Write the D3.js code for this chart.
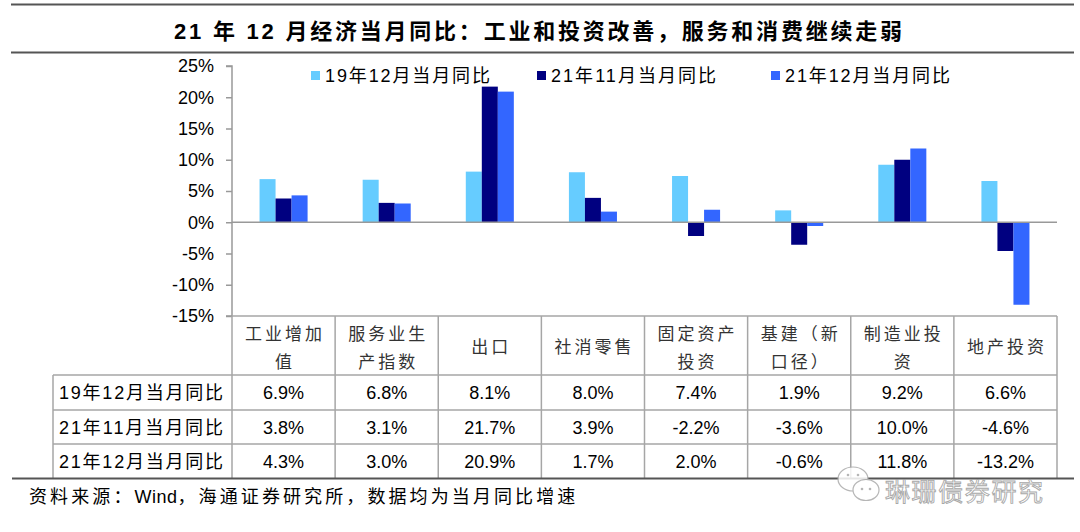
<!DOCTYPE html>
<html><head><meta charset="utf-8">
<script src="https://cdn.jsdelivr.net/npm/d3@7"></script>
<style>
html,body{margin:0;padding:0;background:#fff;}
svg{display:block;}
text{font-family:"Liberation Sans","Noto Sans CJK SC",sans-serif;}
</style></head>
<body><svg id="c" width="1080" height="532"></svg>
<script>
const title = "21 年 12 月经济当月同比：工业和投资改善，服务和消费继续走弱";
const sourceParts = ["资料来源：", "Wind", "，海通证券研究所，数据均为当月同比增速"];
const watermark = "琳珊债券研究";
const categories = ["工业增加值","服务业生产指数","出口","社消零售","固定资产投资","基建（新口径）","制造业投资","地产投资"];
const seriesNames = ["19年12月当月同比","21年11月当月同比","21年12月当月同比"];
const s19Dec = [6.9, 6.8, 8.1, 8.0, 7.4, 1.9, 9.2, 6.6];
const s21Nov = [3.8, 3.1, 21.7, 3.9, -2.2, -3.6, 10.0, -4.6];
const s21Dec = [4.3, 3.0, 20.9, 1.7, 2.0, -0.6, 11.8, -13.2];
const yTicks = [25, 20, 15, 10, 5, 0, -5, -10, -15];
const colors = ["#66CCFF", "#000080", "#3366FF"];

const series = [s19Dec, s21Nov, s21Dec];
const svg = d3.select("#c");
const loc = d3.formatLocale({decimal: ".", thousands: ",", grouping: [3], currency: ["", ""], minus: "-"});
const fmt = v => loc.format(".1f")(v) + "%";

// layout
const L = 232, R = 1057, T = 66, B = 316;
const x0 = d3.scaleBand().domain(categories).range([L, R]).paddingInner(0).paddingOuter(0);
const x1 = d3.scaleBand().domain(d3.range(3)).range([0, x0.bandwidth()]).paddingInner(0).paddingOuter(1.72);
const y = d3.scaleLinear().domain([-15, 25]).range([B, T]);

// title bar lines
svg.append("line").attr("x1", 11).attr("x2", 1074).attr("y1", 4.5).attr("y2", 4.5).attr("stroke", "#555").attr("stroke-width", 2);
svg.append("line").attr("x1", 11).attr("x2", 1074).attr("y1", 52.5).attr("y2", 52.5).attr("stroke", "#555").attr("stroke-width", 2);
svg.append("text").attr("x", 174).attr("y", 39).attr("font-size", 22).attr("font-weight", "bold")
  .attr("textLength", 728).attr("lengthAdjust", "spacing").attr("fill", "#000")
  .text(title);

// y axis
const yAxis = d3.axisLeft(y).tickValues(yTicks).tickSize(6).tickPadding(12).tickFormat(d => d + "%");
const ga = svg.append("g").attr("transform", `translate(${L},0)`).call(yAxis);
ga.select(".domain").attr("stroke", "#999").attr("stroke-width", 1.5).attr("d", `M-6,${T}H0V${B}H-6`);
ga.selectAll(".tick line").attr("stroke", "#999").attr("stroke-width", 1.5);
ga.selectAll(".tick text").attr("font-size", 18).attr("fill", "#000").style("font-family", "'Liberation Sans',sans-serif");

// bars
const groups = svg.append("g").selectAll("g").data(categories).join("g")
  .attr("transform", d => `translate(${x0(d)},0)`);
series.forEach((vals, si) => {
  groups.append("rect")
    .attr("x", x1(si))
    .attr("width", x1.bandwidth())
    .attr("y", (d, i) => y(Math.max(0, vals[i])))
    .attr("height", (d, i) => Math.abs(y(vals[i]) - y(0)))
    .attr("fill", colors[si]);
});

// zero line
svg.append("line").attr("x1", L).attr("x2", R).attr("y1", y(0)).attr("y2", y(0)).attr("stroke", "#999").attr("stroke-width", 1.5);

// legend
const legX = [311, 537, 771];
seriesNames.forEach((n, i) => {
  svg.append("rect").attr("x", legX[i]).attr("y", 71).attr("width", 9).attr("height", 9).attr("fill", colors[i]);
  svg.append("text").attr("x", legX[i] + 14).attr("y", 82).attr("font-size", 18).attr("fill", "#000")
    .attr("textLength", 165).attr("lengthAdjust", "spacing").text(n);
});

// table
const rowTop = [375, 410, 444];
const rowBot = 478;
const grid = "#a6a6a6";
const tg = svg.append("g");
tg.append("line").attr("x1", L).attr("x2", R).attr("y1", B).attr("y2", B).attr("stroke", grid).attr("stroke-width", 1.5);
rowTop.forEach(yy => tg.append("line").attr("x1", 53).attr("x2", R).attr("y1", yy).attr("y2", yy).attr("stroke", grid).attr("stroke-width", 1.5));
tg.append("line").attr("x1", 53).attr("x2", 53).attr("y1", rowTop[0]).attr("y2", rowBot).attr("stroke", grid).attr("stroke-width", 1.5);
categories.forEach(c => {
  tg.append("line").attr("x1", x0(c) + x0.bandwidth()).attr("x2", x0(c) + x0.bandwidth())
    .attr("y1", B).attr("y2", rowBot).attr("stroke", grid).attr("stroke-width", 1.5);
});
tg.append("line").attr("x1", L).attr("x2", L).attr("y1", B).attr("y2", rowBot).attr("stroke", grid).attr("stroke-width", 1.5);

// header labels
categories.forEach(c => {
  const chunks = [];
  for (let i = 0; i < c.length; i += 4) chunks.push(c.slice(i, i + 4));
  const cx = x0(c) + x0.bandwidth() / 2 + 1.5;
  const ys = chunks.length === 1 ? [353] : [340, 368];
  chunks.forEach((t, k) => {
    tg.append("text").attr("x", cx).attr("y", ys[k]).attr("text-anchor", "middle")
      .attr("font-size", 17).attr("fill", "#333").attr("letter-spacing", 3)
      .style("font-family", "'Noto Sans CJK SC',sans-serif").text(t);
  });
});

// row labels + values
series.forEach((vals, si) => {
  const yy = rowTop[si] + (si < 2 ? rowTop[si + 1] - rowTop[si] : rowBot - rowTop[si]) / 2 + 6.5;
  tg.append("text").attr("x", 59).attr("y", yy).attr("font-size", 18).attr("fill", "#000")
    .attr("textLength", 164).attr("lengthAdjust", "spacing").text(seriesNames[si]);
  categories.forEach((c, i) => {
    tg.append("text").attr("x", x0(c) + x0.bandwidth() / 2).attr("y", yy).attr("text-anchor", "middle")
      .attr("font-size", 18).attr("fill", "#000").text(fmt(vals[i]));
  });
});

// bottom line
svg.append("line").attr("x1", 12).attr("x2", 1074).attr("y1", 478.5).attr("y2", 478.5).attr("stroke", "#555").attr("stroke-width", 2);

// source
const st = svg.append("text").attr("x", 29).attr("y", 503).attr("font-size", 18).attr("fill", "#000");
sourceParts.forEach((p, i) => {
  st.append("tspan").attr("letter-spacing", i === 1 ? 0.5 : 3.1).text(p);
});

// watermark
const wm = svg.append("g").attr("opacity", 0.85);
wm.append("ellipse").attr("cx", 853).attr("cy", 479).attr("rx", 15).attr("ry", 12).attr("fill", "#fff").attr("stroke", "#aaa").attr("stroke-width", 1.2);
wm.append("ellipse").attr("cx", 866).attr("cy", 490).attr("rx", 13).attr("ry", 10.5).attr("fill", "#fff").attr("stroke", "#aaa").attr("stroke-width", 1.2);
[[848,475],[858,475],[862,489],[870,489]].forEach(p => wm.append("circle").attr("cx", p[0]).attr("cy", p[1]).attr("r", 1.3).attr("fill", "#aaa"));
wm.append("text").attr("x", 885).attr("y", 501).attr("font-size", 25).attr("fill", "#fff").attr("stroke", "#999").attr("stroke-width", 0.9)
  .attr("textLength", 158).attr("lengthAdjust", "spacing")
  .style("font-family", "'Noto Sans CJK SC',sans-serif").text(watermark);
</script></body></html>
